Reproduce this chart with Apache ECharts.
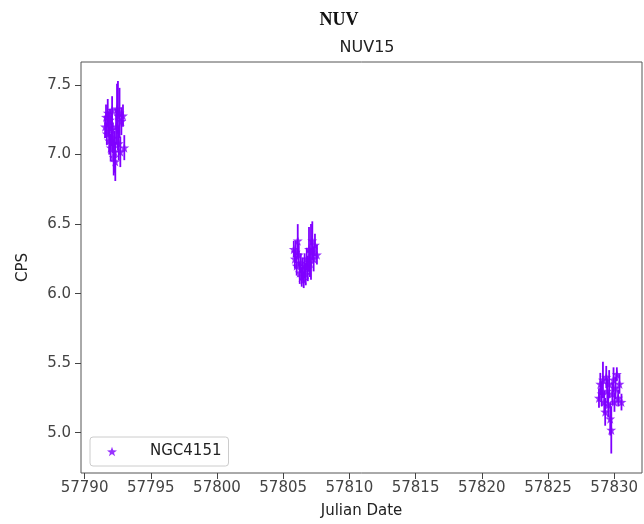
<!DOCTYPE html>
<html>
<head>
<meta charset="utf-8">
<script src="https://cdn.jsdelivr.net/npm/echarts@6/dist/echarts.min.js"></script>
<style>
html,body{margin:0;padding:0;background:#fff;}
#c{width:644px;height:524px;}
</style>
</head>
<body>
<div id="c"></div>
<script>
// ---- data ----
const seriesName = 'NGC4151';
const jd = [
  57791.55,57791.62,57791.68,57791.75,57791.80,57791.86,57791.92,57791.97,57792.03,57792.08,57792.14,57792.20,57792.26,57792.32,57792.38,57792.45,57792.52,57792.58,57792.64,57792.70,57792.78,57792.90,57793.00,
  57805.80,57805.88,57805.95,57806.02,57806.10,57806.18,57806.25,57806.33,57806.40,57806.48,57806.55,57806.62,57806.70,57806.78,57806.86,57806.95,57807.02,57807.10,57807.20,57807.30,57807.40,57807.55,
  57828.85,57828.95,57829.05,57829.15,57829.25,57829.32,57829.40,57829.48,57829.55,57829.62,57829.70,57829.78,57829.86,57829.95,57830.02,57830.10,57830.20,57830.30,57830.40,57830.55
];
const cps = [
  7.20,7.27,7.15,7.30,7.22,7.10,7.25,7.05,7.18,7.32,7.12,6.98,7.02,6.95,7.20,7.33,7.28,7.08,7.30,7.02,7.24,7.28,7.05,
  6.32,6.25,6.30,6.20,6.38,6.28,6.15,6.22,6.12,6.18,6.10,6.20,6.14,6.25,6.18,6.32,6.22,6.30,6.38,6.25,6.35,6.28,
  5.25,5.35,5.28,5.38,5.22,5.15,5.40,5.30,5.20,5.35,5.10,5.02,5.28,5.38,5.22,5.32,5.42,5.25,5.35,5.22
];
const cpsErr = [
  0.08,0.09,0.08,0.10,0.09,0.10,0.08,0.10,0.12,0.10,0.11,0.13,0.15,0.14,0.13,0.18,0.25,0.12,0.18,0.11,0.10,0.08,0.09,
  0.06,0.07,0.08,0.07,0.12,0.08,0.08,0.07,0.07,0.08,0.06,0.09,0.08,0.08,0.09,0.16,0.10,0.20,0.14,0.09,0.08,0.07,
  0.07,0.08,0.09,0.13,0.08,0.10,0.08,0.09,0.09,0.10,0.12,0.17,0.08,0.09,0.07,0.08,0.05,0.06,0.07,0.06
];
const xTicks = [57790,57795,57800,57805,57810,57815,57820,57825,57830];
const yTicks = [5.0,5.5,6.0,6.5,7.0,7.5];

// ---- chart ----
const color = '#7f00ff';
const star = 'path://M0,-10L2.35,-3.24L9.51,-3.09L3.8,1.24L5.88,8.09L0,4L-5.88,8.09L-3.8,1.24L-9.51,-3.09L-2.35,-3.24Z';
const pts = jd.map((x,i)=>[x,cps[i],cpsErr[i]]);
const axisFont = {fontFamily:'DejaVu Sans', fontSize:15, color:'#444'};
function near(v, arr){ return arr.some(t=>Math.abs(t-v)<1e-6); }

const chart = echarts.init(document.getElementById('c'), null, {renderer:'canvas'});
chart.setOption({
  animation:false,
  backgroundColor:'#fff',
  title:[
    {text:'NUV', left:334, top:6, textAlign:'center',
     textStyle:{fontFamily:'Liberation Serif', fontWeight:'bold', fontSize:18, color:'#111'}},
    {text:'NUV15', left:362, top:35, textAlign:'center',
     textStyle:{fontFamily:'DejaVu Sans', fontWeight:'normal', fontSize:16, color:'#222'}}
  ],
  legend:{
    left:90, top:437, data:[{name:seriesName, icon:star}],
    itemWidth:10, itemHeight:10, itemGap:10,
    padding:[7,7,7,17],
    borderColor:'#ccc', borderWidth:1, borderRadius:3,
    textStyle:{fontFamily:'DejaVu Sans', fontSize:15, color:'#222', padding:[0,0,0,28]}
  },
  grid:{left:81, right:2, top:62, bottom:51, show:true, borderColor:'#555', borderWidth:1, backgroundColor:'transparent'},
  xAxis:{
    type:'value', min:57789.73, max:57832.1, splitNumber:9,
    name:'Julian Date', nameLocation:'middle', nameGap:31,
    nameTextStyle:{fontFamily:'DejaVu Sans', fontSize:15, color:'#222'},
    axisLine:{show:false}, splitLine:{show:false},
    axisTick:{show:true, length:6, lineStyle:{color:'#444'}, customValues:xTicks},
    axisLabel:Object.assign({margin:8, customValues:xTicks, formatter:v=>near(v,xTicks)?String(Math.round(v)):''}, axisFont)
  },
  yAxis:{
    type:'value', min:4.71, max:7.666,
    name:'CPS', nameLocation:'middle', nameGap:50,
    nameTextStyle:{fontFamily:'DejaVu Sans', fontSize:15, color:'#222'},
    axisLine:{show:false}, splitLine:{show:false},
    axisTick:{show:true, length:6, lineStyle:{color:'#444'}, customValues:yTicks},
    axisLabel:Object.assign({margin:10, customValues:yTicks, formatter:v=>near(v,yTicks)?v.toFixed(1):''}, axisFont)
  },
  series:[
    {
      type:'custom', name:'err', silent:true,
      data:pts,
      renderItem:function(params, api){
        const x = api.value(0), y = api.value(1), e = api.value(2);
        const p1 = api.coord([x, y+e]), p2 = api.coord([x, y-e]);
        return {type:'line', shape:{x1:p1[0], y1:p1[1], x2:p2[0], y2:p2[1]},
                style:{stroke:color, lineWidth:1.8}};
      },
      encode:{x:0, y:1}, z:2
    },
    {
      type:'scatter', name:seriesName, data:pts.map(p=>[p[0],p[1]]),
      symbol:star, symbolSize:10,
      itemStyle:{color:color}, z:3
    }
  ]
});
</script>
</body>
</html>
